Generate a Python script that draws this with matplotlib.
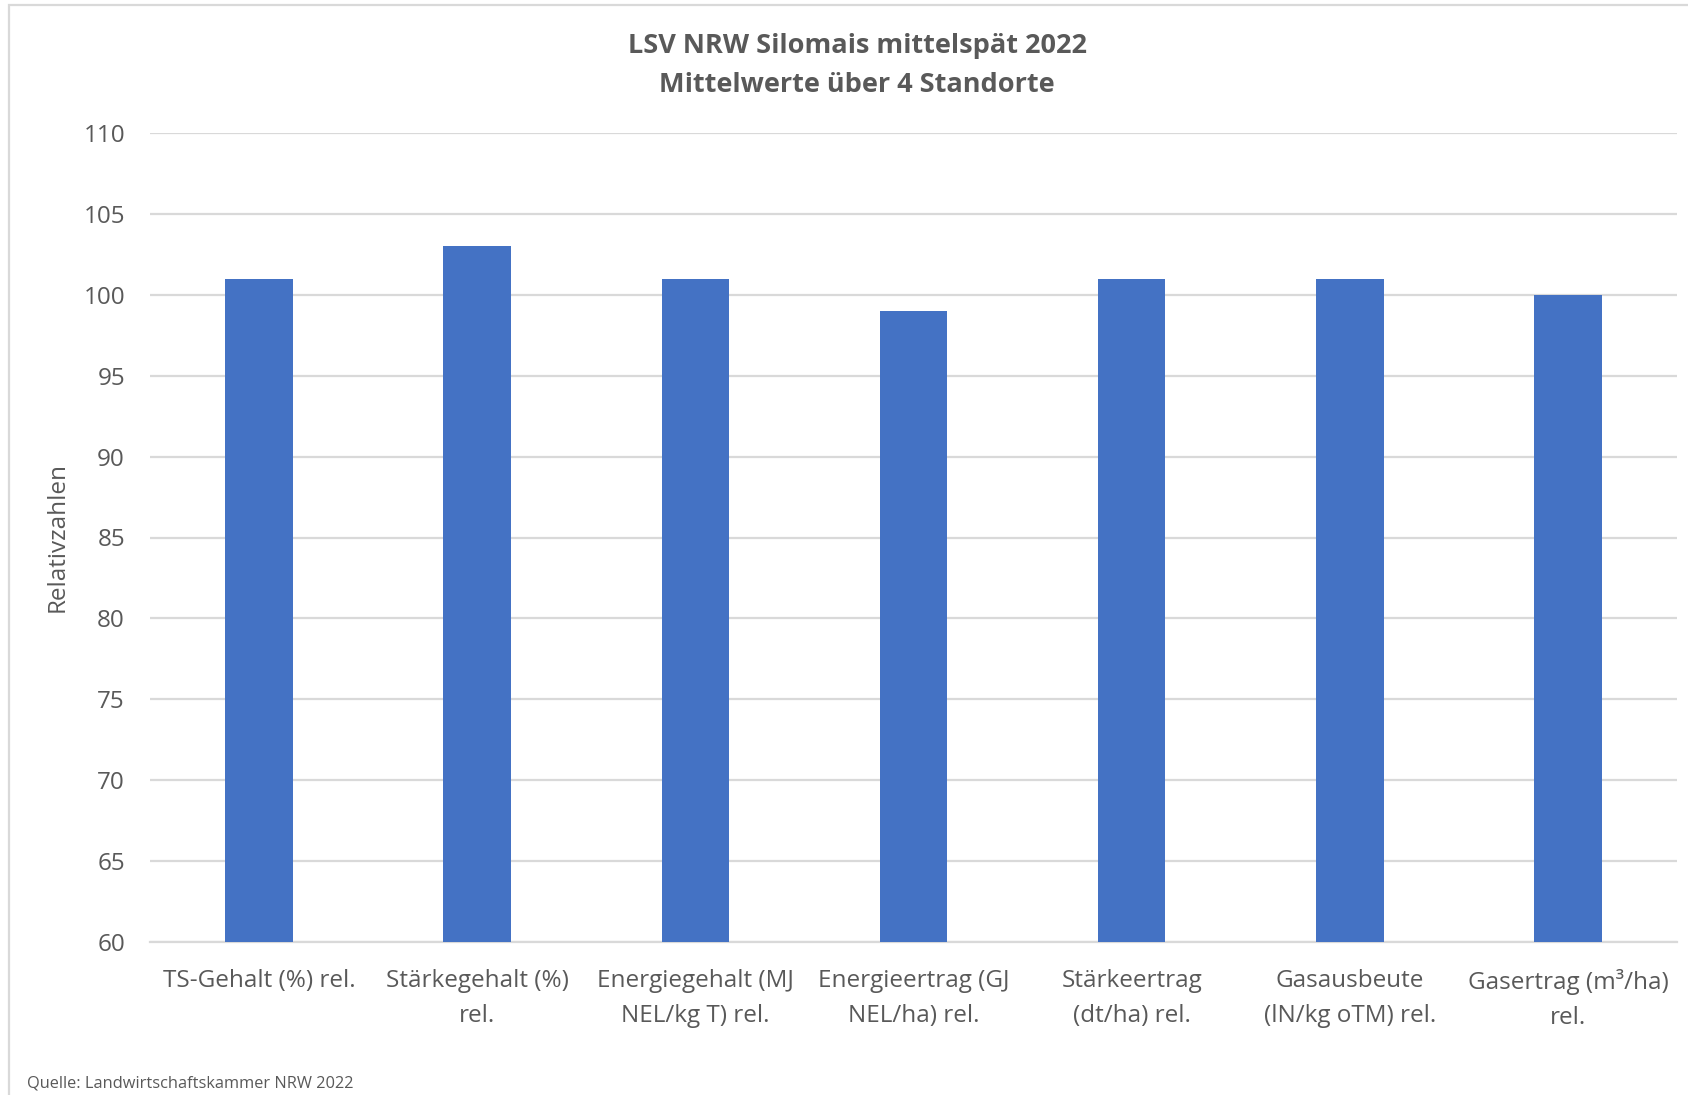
import matplotlib as mpl; mpl.use("Agg")
import matplotlib.pyplot as plt
from matplotlib.patches import Rectangle

mpl.rcParams.update({
    "font.family": ["Open Sans", "DejaVu Sans"],
    "axes.spines.top": False,
    "axes.spines.right": False,
    "axes.spines.left": False,
})

BAR = "#4472C4"
TXT = "#595959"
GRID = "#d9d9d9"

# ── data ──────────────────────────────────────────────────────────────────────
CATEGORIES = [
    "TS-Gehalt (%) rel.",
    "Stärkegehalt (%)\nrel.",
    "Energiegehalt (MJ\nNEL/kg T) rel.",
    "Energieertrag (GJ\nNEL/ha) rel.",
    "Stärkeertrag\n(dt/ha) rel.",
    "Gasausbeute\n(lN/kg oTM) rel.",
    "Gasertrag (m³/ha)\nrel.",
]
VALUES = [101, 103, 101, 99, 101, 101, 100]
YTICKS = [60, 65, 70, 75, 80, 85, 90, 95, 100, 105, 110]

# ── figure ────────────────────────────────────────────────────────────────────
fig = plt.figure(figsize=(16.88, 10.95), dpi=100)
ax = fig.add_axes([150 / 1688, 1 - 942 / 1095, 1527 / 1688, 809 / 1095])

# chart-area frame (cut at right/bottom edge)
fig.patches.append(Rectangle((9 / 1688, -0.05), 1.1, 1 - 5 / 1095 + 0.05,
                             transform=fig.transFigure, fill=False,
                             edgecolor=GRID, lw=1.6, zorder=0))

x = range(len(CATEGORIES))
ax.bar(x, [v - YTICKS[0] for v in VALUES], bottom=YTICKS[0], width=0.31,
       color=BAR, zorder=3)

ax.set_xlim(-0.5, len(CATEGORIES) - 0.5)
ax.set_ylim(YTICKS[0], YTICKS[-1])
ax.set_yticks(YTICKS)
ax.set_xticks(list(x))
ax.set_xticklabels(CATEGORIES, fontsize=17.5, color=TXT, linespacing=1.6)
ax.tick_params(axis="both", length=0, colors=TXT)
ax.tick_params(axis="y", labelsize=17.5, pad=18)
ax.tick_params(axis="x", pad=19.5)
ax.grid(axis="y", color=GRID, lw=1.6, zorder=0)
ax.spines["bottom"].set_color(GRID)
ax.spines["bottom"].set_linewidth(1.6)
ax.set_ylabel("Relativzahlen", fontsize=17.5, color=TXT, labelpad=10)

fig.text(857 / 1688, 1 - 46 / 1095, "LSV NRW Silomais mittelspät 2022",
         ha="center", va="center", fontsize=19.5, fontweight="bold", color=TXT)
fig.text(857 / 1688, 1 - 85 / 1095, "Mittelwerte über 4 Standorte",
         ha="center", va="center", fontsize=19.5, fontweight="bold", color=TXT)

fig.text(27 / 1688, 1 - 1083 / 1095, "Quelle: Landwirtschaftskammer NRW 2022",
         ha="left", va="center", fontsize=11.8, color=TXT)

fig.savefig("out.png", dpi=100, facecolor="white")
